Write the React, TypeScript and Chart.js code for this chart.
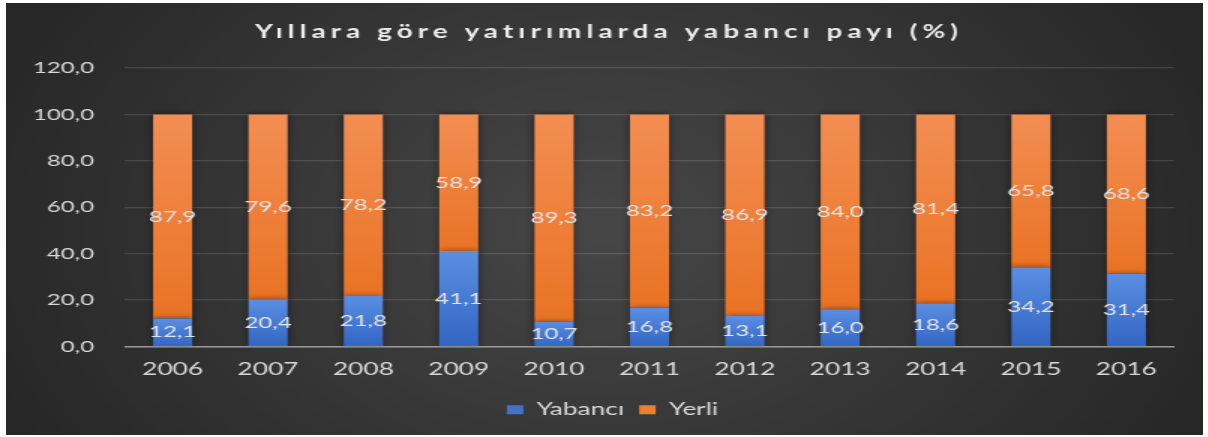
import { useEffect, useRef } from "react";
import { Chart, registerables } from "chart.js";

Chart.register(...registerables);

const years = ["2006", "2007", "2008", "2009", "2010", "2011", "2012", "2013", "2014", "2015", "2016"];
const yabanci = [12.1, 20.4, 21.8, 41.1, 10.7, 16.8, 13.1, 16.0, 18.6, 34.2, 31.4];
const yerli = [87.9, 79.6, 78.2, 58.9, 89.3, 83.2, 86.9, 84.0, 81.4, 65.8, 68.6];
const seriesNames = ["Yabancı", "Yerli"];
const chartTitle = "Yıllara göre yatırımlarda yabancı payı (%)";
const yMin = 0;
const yMax = 120;
const yStep = 20;

const STRETCH = 1.5;
const PAGE_W = 1197;
const PAGE_H = 432;
const W = Math.round(PAGE_W / STRETCH);
const H = PAGE_H;
const FONT = "Lato, 'Open Sans', sans-serif";
const TEXT = "#d9d9d9";

const fmt = (v: number) => Number(v).toFixed(1).replace(".", ",");

function segGradient(top: string, bottom: string, fallback: string) {
  return (ctx: any) => {
    const chart = ctx.chart;
    if (ctx.type !== "data" || !chart.chartArea || !chart.scales.y) return fallback;
    const ds = ctx.datasetIndex;
    const i = ctx.dataIndex;
    let start = 0;
    for (let d = 0; d < ds; d++) start += Number(chart.data.datasets[d].data[i]);
    const end = start + Number(chart.data.datasets[ds].data[i]);
    const y0 = chart.scales.y.getPixelForValue(end);
    const y1 = chart.scales.y.getPixelForValue(start);
    if (!isFinite(y0) || !isFinite(y1) || y0 === y1) return fallback;
    const g = chart.ctx.createLinearGradient(0, y0, 0, y1);
    g.addColorStop(0, top);
    g.addColorStop(1, bottom);
    return g;
  };
}

const legendColors = ["#4472c4", "#ed7d31"];

const bgPlugin = {
  id: "bgPlugin",
  afterLayout(chart: any) {
    // center the legend on the whole chart like the reference
    if (chart.legend) {
      chart.legend.left += 15;
      chart.legend.right += 15;
    }
  },
  beforeDraw(chart: any) {
    const c = chart.ctx;
    c.save();
    const g = c.createRadialGradient(W / 2, 225, 0, W / 2, 225, 440);
    g.addColorStop(0, "#474747");
    g.addColorStop(1, "#272727");
    c.fillStyle = g;
    c.fillRect(0, 0, chart.width, chart.height);
    c.restore();
  },
};

const shadowAndLabels = {
  id: "shadowAndLabels",
  beforeDatasetsDraw(chart: any) {
    const c = chart.ctx;
    c.save();
    c.shadowColor = "rgba(0,0,0,0.45)";
    c.shadowBlur = 6;
    c.shadowOffsetX = 0;
    c.shadowOffsetY = 0;
  },
  afterDatasetsDraw(chart: any) {
    const c = chart.ctx;
    c.restore();
    c.save();
    c.font = `16px ${FONT}`;
    c.fillStyle = "#e4e4e4";
    c.textAlign = "center";
    c.textBaseline = "middle";
    chart.data.datasets.forEach((ds: any, di: number) => {
      const meta = chart.getDatasetMeta(di);
      meta.data.forEach((bar: any, i: number) => {
        const p = bar.getProps(["x", "y", "base"], true);
        c.fillText(fmt(ds.data[i]), p.x, (p.y + p.base) / 2);
      });
    });
    c.restore();
  },
};

const titlePlugin = {
  id: "titlePlugin",
  afterDraw(chart: any) {
    const c = chart.ctx;
    c.save();
    c.font = `bold 18.5px ${FONT}`;
    c.fillStyle = "#ececec";
    c.textAlign = "center";
    c.textBaseline = "alphabetic";
    try {
      (c as any).letterSpacing = "3.4px";
    } catch (e) {}
    c.fillText(chartTitle, W / 2 + 3, 35);
    c.restore();
  },
};

export default function App() {
  const ref = useRef<HTMLCanvasElement | null>(null);

  useEffect(() => {
    document.body.style.margin = "0";
    const canvas = ref.current;
    if (!canvas) return;
    const chart = new Chart(canvas, {
      type: "bar",
      data: {
        labels: years,
        datasets: [
          {
            label: seriesNames[0],
            data: yabanci,
            backgroundColor: segGradient("#5b8fe3", "#3366c2", legendColors[0]),
            borderWidth: 0,
            barPercentage: 0.41,
            categoryPercentage: 1,
          },
          {
            label: seriesNames[1],
            data: yerli,
            backgroundColor: segGradient("#f38e53", "#ea7324", legendColors[1]),
            borderWidth: 0,
            barPercentage: 0.41,
            categoryPercentage: 1,
          },
        ],
      },
      options: {
        responsive: false,
        animation: false,
        devicePixelRatio: 1,
        layout: { padding: { top: 65, left: 0, right: 19.3, bottom: 6.5 } },
        plugins: {
          title: { display: false },
          tooltip: { enabled: false },
          legend: {
            position: "bottom",
            labels: {
              boxWidth: 11,
              boxHeight: 9,
              padding: 10,
              color: TEXT,
              font: { family: FONT, size: 17.5 },
              generateLabels: () =>
                seriesNames.map((n, i) => ({
                  text: n,
                  fillStyle: legendColors[i],
                  strokeStyle: legendColors[i],
                  lineWidth: 0,
                  hidden: false,
                  datasetIndex: i,
                  fontColor: TEXT,
                })),
            },
          },
        },
        scales: {
          x: {
            stacked: true,
            grid: { display: false, drawTicks: false },
            border: { display: true, color: "#9a9a9a", width: 1.5 },
            ticks: {
              color: TEXT,
              font: { family: FONT, size: 17.5 },
              padding: 12,
              maxRotation: 0,
              autoSkip: false,
            },
            afterFit: (s: any) => {
              s.height = 44.5;
            },
          },
          y: {
            stacked: true,
            min: yMin,
            max: yMax,
            ticks: {
              stepSize: yStep,
              color: TEXT,
              font: { family: FONT, size: 16 },
              padding: 20.6,
              callback: (v: any) => fmt(v),
            },
            grid: { color: "rgba(255,255,255,0.13)", drawTicks: false, lineWidth: 1.2 },
            border: { display: false },
            afterFit: (s: any) => {
              s.width = 79.3;
            },
          },
        },
      },
      plugins: [bgPlugin, shadowAndLabels, titlePlugin],
    } as any);
    return () => chart.destroy();
  }, []);

  return (
    <div style={{ padding: "3px 0 0 6px" }}>
      <canvas
        ref={ref}
        width={W}
        height={H}
        style={{ display: "block", width: `${PAGE_W}px`, height: `${PAGE_H}px` }}
      />
    </div>
  );
}
